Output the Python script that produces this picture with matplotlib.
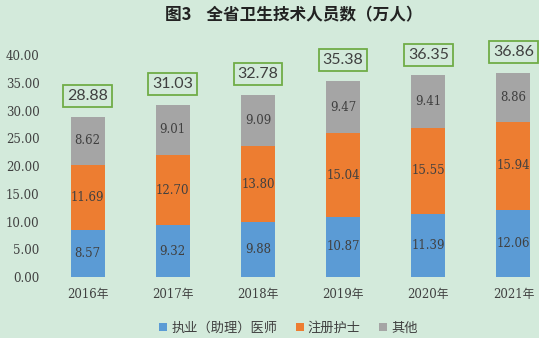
import matplotlib.pyplot as plt
import numpy as np

plt.rcParams['font.family'] = ['Noto Sans CJK SC', 'DejaVu Sans']

years = ['2016年', '2017年', '2018年', '2019年', '2020年', '2021年']
doctors = [8.57, 9.32, 9.88, 10.87, 11.39, 12.06]
nurses = [11.69, 12.70, 13.80, 15.04, 15.55, 15.94]
others = [8.62, 9.01, 9.09, 9.47, 9.41, 8.86]
totals = [28.88, 31.03, 32.78, 35.38, 36.35, 36.86]
names = ['执业（助理）医师', '注册护士', '其他']
colors = ['#5b9bd5', '#ed7d31', '#a5a5a5']

bg = '#d3eadb'
txt = '#404040'

fig = plt.figure(figsize=(5.39, 3.38), dpi=100, facecolor=bg)
ax = fig.add_axes([45 / 539, 0.180, 494 / 539, 0.657])
ax.set_facecolor(bg)

x = np.arange(len(years))
w = 0.4
bottom = np.zeros(len(years))
for vals, name, c in zip([doctors, nurses, others], names, colors):
    ax.bar(x, vals, w, bottom=bottom, color=c, label=name)
    for xi, b, v in zip(x, bottom, vals):
        ax.text(xi, b + v / 2, f'{v:.2f}', ha='center', va='center',
                fontsize=8.5, color=txt, family=['DejaVu Serif'])
    bottom += np.array(vals)

# total labels in green boxes
for xi, t in zip(x, totals):
    ax.annotate(f'{t:.2f}', (xi, t), xytext=(0, 15), textcoords='offset points',
                ha='center', va='center', fontsize=11.5, color=txt,
                family=['Lato'],
                bbox=dict(boxstyle='square,pad=0.25', fc=bg, ec='#70ad47', lw=1.3),
                annotation_clip=False)

ax.set_xlim(-0.5, 5.3)
ax.set_ylim(0, 40)
ax.set_yticks(np.arange(0, 41, 5))
ax.set_yticklabels([f'{v:.2f}' for v in np.arange(0, 41, 5)], fontsize=8.5,
                   color=txt, family=['DejaVu Serif'])
ax.set_xticks(x)
ax.set_xticklabels(years, fontsize=8.5, color=txt,
                   family=['DejaVu Serif', 'Noto Sans CJK SC'])
ax.tick_params(length=0, pad=8)
ax.tick_params(axis='y', pad=4)
for s in ax.spines.values():
    s.set_visible(False)

fig.text(0.545, 0.955, '图3    全省卫生技术人员数（万人）', ha='center', va='center',
         fontsize=12, fontweight='bold', color='#222222')

fig.legend(loc='lower center', bbox_to_anchor=(0.535, -0.025), ncol=3, frameon=False,
           fontsize=9.5, handlelength=0.6, handleheight=0.6, handletextpad=0.3,
           columnspacing=1.4, labelcolor=txt)

fig.savefig('out.png', dpi=100, facecolor=bg)
